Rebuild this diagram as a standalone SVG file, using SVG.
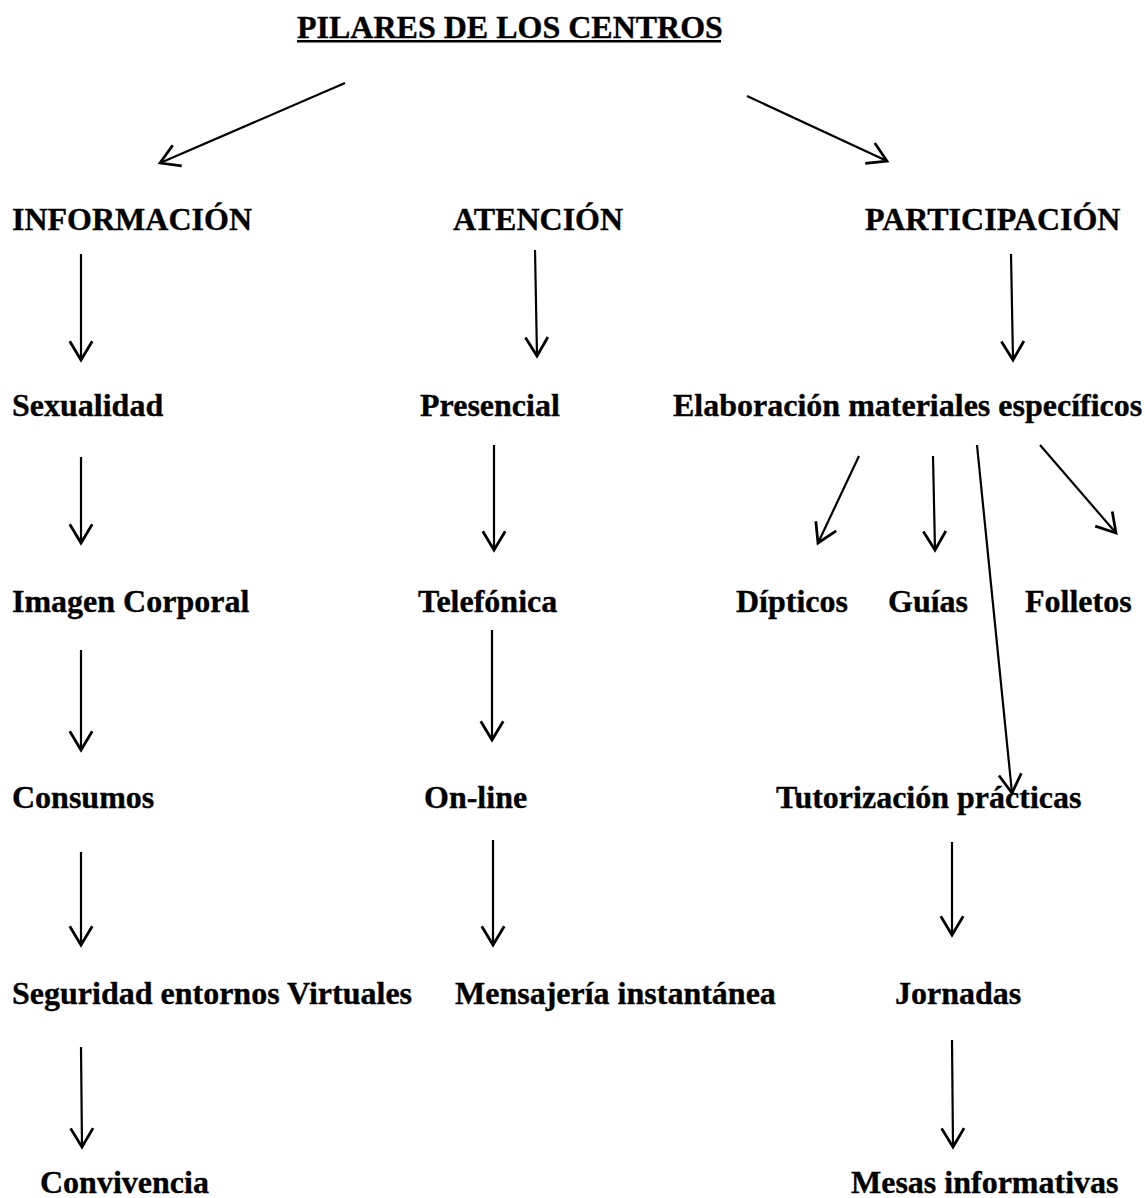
<svg xmlns="http://www.w3.org/2000/svg" width="1145" height="1198" viewBox="0 0 1145 1198">
<style>
text{font-family:"Liberation Serif","Times New Roman",serif;font-weight:bold;font-size:32px;fill:#000;stroke:#000;stroke-width:0.35}
.c line{stroke:#000;stroke-width:2.2;fill:none;marker-end:url(#a)}
</style>
<defs>
<marker id="a" markerUnits="userSpaceOnUse" markerWidth="30" markerHeight="30" refX="0" refY="0" viewBox="-16 -12 20 24" orient="auto" overflow="visible">
<path d="M-15,-9 L0,0 L-15,9" fill="none" stroke="#000" stroke-width="2.2"/>
</marker>
</defs>
<rect width="1145" height="1198" fill="#fff"/>
<g id="title"><text x="297" y="38">PILARES DE LOS CENTROS</text><rect x="297" y="40" width="424" height="2.5" fill="#000"/></g>
<g id="informacion"><text x="12" y="230">INFORMACIÓN</text></g>
<g id="atencion"><text x="453" y="230">ATENCIÓN</text></g>
<g id="participacion"><text x="865" y="230">PARTICIPACIÓN</text></g>
<g id="sexualidad"><text x="12" y="416">Sexualidad</text></g>
<g id="presencial"><text x="420" y="416">Presencial</text></g>
<g id="elaboracion"><text x="673" y="416">Elaboración materiales específicos</text></g>
<g id="imagen"><text x="12" y="612">Imagen Corporal</text></g>
<g id="telefonica"><text x="418" y="612">Telefónica</text></g>
<g id="dipticos"><text x="736" y="612">Dípticos</text></g>
<g id="guias"><text x="888" y="612">Guías</text></g>
<g id="folletos"><text x="1025" y="612">Folletos</text></g>
<g id="consumos"><text x="12" y="808">Consumos</text></g>
<g id="online"><text x="424" y="808">On-line</text></g>
<g id="tutorizacion"><text x="776" y="808">Tutorización prácticas</text></g>
<g id="seguridad"><text x="12" y="1004">Seguridad entornos Virtuales</text></g>
<g id="mensajeria"><text x="455" y="1004">Mensajería instantánea</text></g>
<g id="jornadas"><text x="895" y="1004">Jornadas</text></g>
<g id="convivencia"><text x="40" y="1193">Convivencia</text></g>
<g id="mesas"><text x="851" y="1193">Mesas informativas</text></g>
<g id="connectors" class="c">
<line x1="345" y1="83" x2="160" y2="163"/>
<line x1="747" y1="96" x2="887" y2="161"/>
<line x1="81" y1="254" x2="81" y2="360"/>
<line x1="81" y1="457" x2="81" y2="543"/>
<line x1="81" y1="650" x2="81" y2="750"/>
<line x1="81" y1="852" x2="81" y2="945"/>
<line x1="81" y1="1047" x2="82" y2="1147"/>
<line x1="535" y1="250" x2="537" y2="356"/>
<line x1="494" y1="445" x2="494" y2="550"/>
<line x1="492" y1="630" x2="492" y2="740"/>
<line x1="493" y1="840" x2="493" y2="945"/>
<line x1="1011" y1="254" x2="1013" y2="360"/>
<line x1="859" y1="456" x2="818" y2="543"/>
<line x1="933" y1="456" x2="935" y2="550"/>
<line x1="977" y1="445" x2="1012" y2="793"/>
<line x1="1040" y1="445" x2="1116" y2="533"/>
<line x1="952" y1="842" x2="952" y2="935"/>
<line x1="952" y1="1040" x2="953" y2="1147"/>
</g>
</svg>
